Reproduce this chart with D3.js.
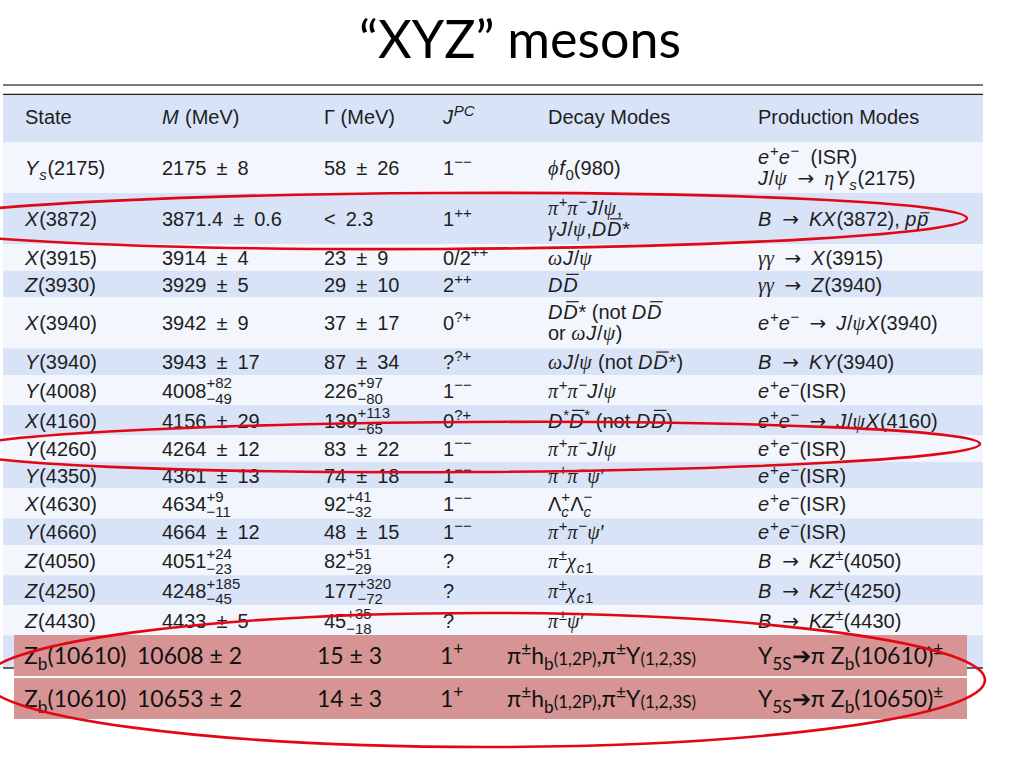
<!DOCTYPE html>
<html><head><meta charset="utf-8">
<script src="https://cdn.jsdelivr.net/npm/d3@7"></script>
<style>body{margin:0;background:#fff;} svg{display:block} text{white-space:pre}</style>
</head><body>
<script>
// ---------------- DATA ----------------
const title = "“XYZ” mesons";
const headers = ["State", "$M$ (MeV)", "Γ (MeV)", "$J$^{$PC$}", "Decay Modes", "Production Modes"];
const states = ["$Y_{s}$(2175)", "$X$(3872)", "$X$(3915)", "$Z$(3930)", "$X$(3940)", "$Y$(3940)", "$Y$(4008)",
  "$X$(4160)", "$Y$(4260)", "$Y$(4350)", "$X$(4630)", "$Y$(4660)", "$Z$(4050)", "$Z$(4250)", "$Z$(4430)"];
const masses = ["2175 ± 8", "3871.4 ± 0.6", "3914 ± 4", "3929 ± 5", "3942 ± 9", "3943 ± 17", "4008^{+82}_{−49}",
  "4156 ± 29", "4264 ± 12", "4361 ± 13", "4634^{+9}_{−11}", "4664 ± 12", "4051^{+24}_{−23}", "4248^{+185}_{−45}", "4433 ± 5"];
const widths = ["58 ± 26", "< 2.3", "23 ± 9", "29 ± 10", "37 ± 17", "87 ± 34", "226^{+97}_{−80}",
  "139^{+113}_{−65}", "83 ± 22", "74 ± 18", "92^{+41}_{−32}", "48 ± 15", "82^{+51}_{−29}", "177^{+320}_{−72}", "45^{+35}_{−18}"];
const jpc = ["1^{−−}", "1^{++}", "0/2^{++}", "2^{++}", "0^{?+}", "?^{?+}", "1^{−−}", "0^{?+}", "1^{−−}", "1^{−−}",
  "1^{−−}", "1^{−−}", "?", "?", "?"];
const decays = ["$ϕf_{0}$(980)", "$π^{+}π^{−}J/ψ$,\n$γJ/ψ$,$D~D$*", "$ωJ/ψ$", "$D~D$", "$D~D$* (not $D~D$\nor $ωJ/ψ$)",
  "$ωJ/ψ$ (not $D~D$*)", "$π^{+}π^{−}J/ψ$", "$D^{*}~D^{*}$ (not $D~D$)", "$π^{+}π^{−}J/ψ$", "$π^{+}π^{−}ψ$′",
  "Λ^{+}_{$c$}Λ^{−}_{$c$}", "$π^{+}π^{−}ψ$′", "$π^{±}χ_{c1}$", "$π^{±}χ_{c1}$", "$π^{±}ψ$′"];
const productions = ["$e^{+}e^{−}$  (ISR)\n$J/ψ$ → $ηY_{s}$(2175)", "$B$ → $KX$(3872), $p~p$", "$γγ$ → $X$(3915)",
  "$γγ$ → $Z$(3940)", "$e^{+}e^{−}$ → $J/ψX$(3940)", "$B$ → $KY$(3940)", "$e^{+}e^{−}$(ISR)",
  "$e^{+}e^{−}$ → $J/ψX$(4160)", "$e^{+}e^{−}$(ISR)", "$e^{+}e^{−}$(ISR)", "$e^{+}e^{−}$(ISR)", "$e^{+}e^{−}$(ISR)",
  "$B$ → $KZ^{±}$(4050)", "$B$ → $KZ^{±}$(4250)", "$B$ → $KZ^{±}$(4430)"];
// highlighted bottomonium-like states
const zbStates = ["Z_{b}(10610)", "Z_{b}(10610)"];
const zbMasses = ["10608 ± 2", "10653 ± 2"];
const zbWidths = ["15 ± 3", "14 ± 3"];
const zbJpc = ["1^{+}", "1^{+}"];
const zbDecays = ["π^{±}h_{b}&{(1,2P)},π^{±}Υ&{(1,2,3S)}", "π^{±}h_{b}&{(1,2P)},π^{±}Υ&{(1,2,3S)}"];
const zbProductions = ["Υ_{5S}➔π Z_{b}(10610)^{±}", "Υ_{5S}➔π Z_{b}(10650)^{±}"];

// ---------------- LAYOUT ----------------
const W = 1024, H = 768;
const svg = d3.select("body").append("svg").attr("width", W).attr("height", H);
const C_BLUE = "#d9e3f7", C_WHITE = "#f3f6fc", C_TEXT = "#1e1e1e", C_RED = "#d69594";
const SANS = "Liberation Sans", SERIF = "Liberation Serif", CAL = "Lato", SYM = "DejaVu Sans";
const cols = ["state", "mass", "width", "jpc", "decay", "prod"];
const x = d3.scaleOrdinal().domain(cols).range([25, 162, 324, 443, 548, 758]);
const xZ = d3.scaleOrdinal().domain(cols).range([24, 137, 317, 440, 507, 758]);
const T0 = 3, T1 = 983;

const rows = states.map((s, i) => ({state: s, mass: masses[i], width: widths[i], jpc: jpc[i], decay: decays[i], prod: productions[i]}));
const hasStack = r => cols.some(c => /\^\{[^}]*\}_/.test(r[c]) || /_\{[^}]*\}\^/.test(r[c]));
const nLines = r => d3.max(cols, c => r[c].split("\n").length);
const heights = rows.map(r => nLines(r) > 1 ? 51 : hasStack(r) ? 30 : 26.7);
const headTop = 95, headBot = 142;
const tops = [headBot, ...d3.cumsum(heights).map(v => headBot + v)];
const yEnd = tops[rows.length];
const yBottomRule = 668;

// ---------------- RICH TEXT ----------------
const GREEK = "αβγδεζηθικλμνξπρστυφϕχψω";
function parseRich(s) {
  const out = []; let math = false; let i = 0;
  function readGroup() {
    if (s[i] === "{") { let d = 1, j = i + 1; while (j < s.length && d > 0) { if (s[j] === "{") d++; else if (s[j] === "}") d--; j++; }
      const g = s.slice(i + 1, j - 1); i = j; return g; }
    const g = s[i]; i++; return g;
  }
  function inner(g, level, m) {
    const arr = []; let bar = false;
    for (const ch of g) { if (ch === "$") { m = !m; continue; } if (ch === "~") { bar = true; continue; }
      arr.push({ch, math: m, level, bar}); bar = false; }
    return arr;
  }
  while (i < s.length) {
    const ch = s[i];
    if (ch === "$") { math = !math; i++; continue; }
    if (ch === "^" || ch === "_") {
      i++; const g = readGroup();
      if ((s[i] === "^" || s[i] === "_") && s[i] !== ch) { i++; const g2 = readGroup();
        const sup = ch === "^" ? g : g2, sub = ch === "^" ? g2 : g;
        out.push({stack: true, sup: inner(sup, "sup", math), sub: inner(sub, "sub", math)});
      } else out.push(...inner(g, ch === "^" ? "sup" : "sub", math));
      continue;
    }
    if (ch === "&") { i++; out.push(...inner(readGroup(), "small", math)); continue; }
    if (ch === "~") { i++; const c = s[i]; i++; out.push({ch: c, math, level: "base", bar: true}); continue; }
    out.push({ch, math, level: "base", bar: false}); i++;
  }
  return out;
}
function styleOf(a, fam) {
  let family = fam, italic = false;
  if (a.math && GREEK.includes(a.ch)) { family = SERIF; italic = true; }
  else if (a.math && /[A-Za-z]/.test(a.ch)) italic = true;
  else if (a.ch === "→") family = SYM;
  return {family, italic};
}
function runs(atoms, fam) {
  const out = [];
  atoms.forEach(a => {
    const st = styleOf(a, fam);
    const last = out[out.length - 1];
    if (last && !a.bar && !last.bar && last.family === st.family && last.italic === st.italic && last.level === a.level)
      last.text += a.ch;
    else out.push({text: a.ch, family: st.family, italic: st.italic, level: a.level, bar: a.bar});
  });
  return out;
}
function drawRich(g, str, x0, y0, B, fam, color, tex) {
  if (tex) str = str.replace(/ ± /g, "\u2002±\u2002").replace(/ → /g, "\u2002→\u2002").replace(/< /g, "<\u2002");
  const atoms = parseRich(str);
  let cx = x0;
  const sizeOf = l => l === "base" ? B : l === "small" ? B * 0.74 : B * 0.75;
  function put(r, xx, shift) {
    const t = g.append("text").attr("x", xx).attr("y", y0 + shift)
      .attr("font-family", r.family).attr("font-size", sizeOf(r.level))
      .attr("font-style", r.italic ? "italic" : "normal").attr("fill", color).text(r.text);
    const w = t.node().getComputedTextLength();
    if (r.bar) {
      const sz = sizeOf(r.level);
      const hgt = /[a-z]/.test(r.text) ? 0.66 : 0.86;
      g.append("line").attr("x1", xx + (r.italic ? 3 : 1)).attr("x2", xx + w + (r.italic ? 1 : -1))
        .attr("y1", y0 + shift - sz * hgt).attr("y2", y0 + shift - sz * hgt)
        .attr("stroke", color).attr("stroke-width", 1.2);
    }
    return w + (r.italic ? 0.8 : 0);
  }
  const shiftOf = l => l === "sup" ? -B * 0.4 : l === "sub" ? B * 0.24 : l === "small" ? B * 0.04 : 0;
  let buf = [];
  const flush = () => { runs(buf, fam).forEach(r => { cx += put(r, cx, shiftOf(r.level)); }); buf = []; };
  atoms.forEach(a => {
    if (a.stack) {
      flush();
      let w1 = 0, w2 = 0, xs = cx;
      runs(a.sup, fam).forEach(r => { w1 += put(r, xs + w1, -B * 0.46); });
      runs(a.sub, fam).forEach(r => { w2 += put(r, xs + w2, B * 0.3); });
      cx += Math.max(w1, w2);
    } else buf.push(a);
  });
  flush();
}
function drawCell(g, str, xx, top, h, B, fam, color) {
  const lines = str.split("\n");
  const c = top + h / 2;
  if (lines.length === 1) drawRich(g, lines[0], xx, c + 7.5, B, fam, color, true);
  else lines.forEach((ln, k) => drawRich(g, ln, xx, c - 4 + k * 21.5, B, fam, color, true));
}

// ---------------- DRAW ----------------
svg.append("text").attr("x", 520).attr("y", 58).attr("text-anchor", "middle")
  .attr("font-family", CAL).attr("font-size", 52).attr("fill", "#000").text(title);

const tb = svg.append("g");
tb.append("rect").attr("x", T0).attr("y", headTop).attr("width", T1 - T0).attr("height", headBot - headTop).attr("fill", C_BLUE);
rows.forEach((r, i) => {
  tb.append("rect").attr("x", T0).attr("y", tops[i]).attr("width", T1 - T0).attr("height", tops[i + 1] - tops[i])
    .attr("fill", i % 2 ? C_BLUE : C_WHITE);
});
tb.append("rect").attr("x", T0).attr("y", yEnd).attr("width", T1 - T0).attr("height", yBottomRule - yEnd)
  .attr("fill", rows.length % 2 ? C_BLUE : C_WHITE);
tb.append("line").attr("x1", T0).attr("x2", T1).attr("y1", 85).attr("y2", 85).attr("stroke", "#7a7a7a").attr("stroke-width", 2);
tb.append("line").attr("x1", T0).attr("x2", T1).attr("y1", 94.3).attr("y2", 94.3).attr("stroke", "#222").attr("stroke-width", 1.3);
tb.append("line").attr("x1", T0).attr("x2", T1).attr("y1", yBottomRule).attr("y2", yBottomRule).attr("stroke", "#333").attr("stroke-width", 1.3);

headers.forEach((h, k) => drawRich(tb, h, x(cols[k]), 123.5, 20, SANS, C_TEXT, true));
rows.forEach((r, i) => cols.forEach(c => drawCell(tb, r[c], x(c), tops[i], tops[i + 1] - tops[i], 20, SANS, C_TEXT)));

// highlighted Zb rows
const zg = svg.append("g");
const zRows = zbStates.map((s, i) => ({state: s, mass: zbMasses[i], width: zbWidths[i], jpc: zbJpc[i], decay: zbDecays[i], prod: zbProductions[i]}));
const zTop = 635, zH = 41, zGap = 2;
zRows.forEach((r, i) => {
  const y0 = zTop + i * (zH + zGap);
  zg.append("rect").attr("x", 14).attr("y", y0).attr("width", 953).attr("height", zH).attr("fill", C_RED);
  cols.forEach(c => drawRich(zg, r[c], xZ(c), y0 + 29, 23, CAL, "#111", false));
});

// ellipses
const eg = svg.append("g").attr("fill", "none").attr("stroke", "#e30613").attr("stroke-width", 2.6);
const ells = [
  {cx: 440, cy: 221, rx: 527, ry: 28, rot: -0.3},
  {cx: 470, cy: 447, rx: 510, ry: 25, rot: -0.35},
  {cx: 485, cy: 680, rx: 500, ry: 67, rot: 0}
];
eg.selectAll("ellipse").data(ells).join("ellipse")
  .attr("cx", d => d.cx).attr("cy", d => d.cy).attr("rx", d => d.rx).attr("ry", d => d.ry)
  .attr("transform", d => `rotate(${d.rot},${d.cx},${d.cy})`);
</script>
</body></html>
